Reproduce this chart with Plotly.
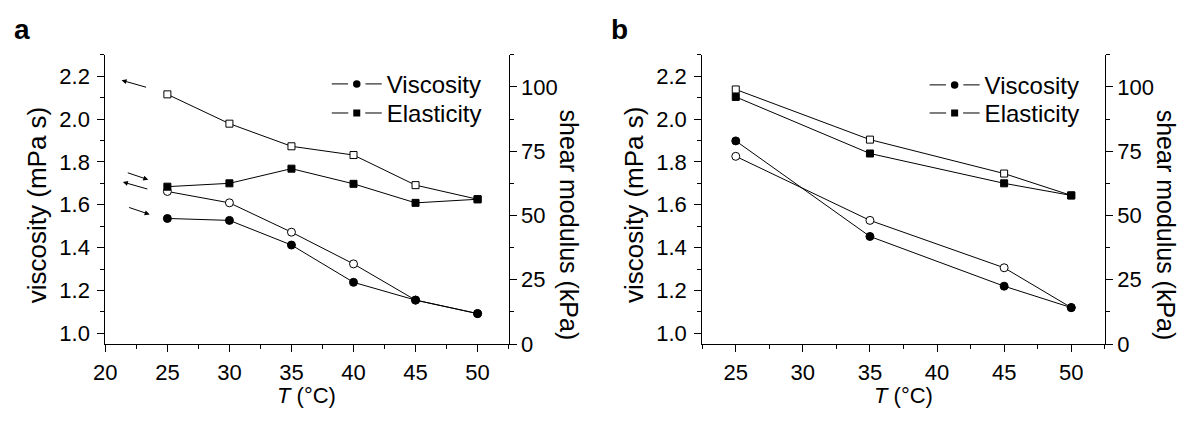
import plotly.graph_objects as go

# ---------------- data ----------------
T_a = [25, 30, 35, 40, 45, 50]
visc_open_a = [1.662, 1.609, 1.472, 1.324, 1.155, 1.092]
visc_fill_a = [1.536, 1.527, 1.412, 1.238, 1.155, 1.092]
mod_open_a = [97.1, 85.7, 76.9, 73.5, 61.8, 56.3]
mod_fill_a = [61.2, 62.5, 68.2, 62.3, 54.9, 56.3]

T_b = [25, 35, 45, 50]
visc_fill_b = [1.898, 1.452, 1.220, 1.120]
visc_open_b = [1.826, 1.527, 1.306, 1.120]
mod_open_b = [99.0, 79.5, 66.3, 57.8]
mod_fill_b = [96.1, 74.1, 62.5, 57.8]

legend_names = ["Viscosity", "Elasticity"]

# arrows in panel a: head (T, viscosity) and tail offset in px
arrow_x = [21.31, 23.46, 21.41, 23.57]
arrow_y = [2.181, 1.717, 1.706, 1.555]
arrow_ax = [26, -22, 26, -22]
arrow_ay = [7.4, -7.4, 7.4, -7.4]

FONT = "Arial, Liberation Sans, sans-serif"
TICKSZ = 22
W, H = 1180, 421

fig = go.Figure()

def add_line(x, y, xa, ya, symbol, filled, size=8):
    fig.add_trace(go.Scatter(
        x=x, y=y, xaxis=xa, yaxis=ya, mode="lines+markers",
        line=dict(color="black", width=1),
        marker=dict(symbol=symbol, size=size,
                    color="black" if filled else "white",
                    line=dict(color="black", width=1)),
        showlegend=False, hoverinfo="x+y",
    ))

# panel a
add_line(T_a, mod_open_a, "x", "y2", "square", False, size=7)
add_line(T_a, mod_fill_a, "x", "y2", "square", True, size=7)
add_line(T_a, visc_open_a, "x", "y", "circle", False)
add_line(T_a, visc_fill_a, "x", "y", "circle", True)
# panel b
add_line(T_b, mod_open_b, "x2", "y4", "square", False, size=7)
add_line(T_b, mod_fill_b, "x2", "y4", "square", True, size=7)
add_line(T_b, visc_open_b, "x2", "y3", "circle", False)
add_line(T_b, visc_fill_b, "x2", "y3", "circle", True)

# legend-only entries (line - marker - line with gaps)
leg_ids = ["legend", "legend2", "legend3", "legend4"]
for i, (lg, xa, ya) in enumerate(zip(leg_ids, ["x", "x", "x2", "x2"], ["y", "y", "y3", "y3"])):
    nm = legend_names[i % 2]
    sym = "circle" if i % 2 == 0 else "square"
    fig.add_trace(go.Scatter(
        x=[None], y=[None], xaxis=xa, yaxis=ya, mode="lines+markers",
        name=nm, legend=lg, showlegend=True,
        line=dict(color="black", width=1),
        marker=dict(symbol=sym, size=12.5 if sym == "circle" else 12,
                    color="black", line=dict(color="white", width=5.5)),
    ))

xa_dom = [94.3 / W, 501.7 / W]
xb_dom = [697.3 / W, 1104 / W]
y_dom = [(H - 355) / H, (H - 56.5) / H]

tickfont = dict(family=FONT, size=TICKSZ, color="black")

def xax(dom, rng, anchor):
    return dict(domain=dom, range=rng, anchor=anchor, showgrid=False, zeroline=False,
                showline=True, linecolor="black", linewidth=1,
                ticks="outside", ticklen=7, tickwidth=1, tickcolor="black",
                dtick=5, tick0=0, tickfont=tickfont, ticklabelstandoff=2,
                minor=dict(ticks="outside", ticklen=4, dtick=2.5, tickcolor="black", tickwidth=1))

def xtop(rng, overlay, anchor):
    return dict(range=rng, overlaying=overlay, anchor=anchor, side="top",
                showgrid=False, zeroline=False, showline=True, linecolor="black", linewidth=1,
                ticks="inside", ticklen=6, tickwidth=1, tickcolor="black",
                dtick=5, tick0=0, showticklabels=False,
                minor=dict(ticks="inside", ticklen=5, dtick=2.5, tickcolor="black", tickwidth=1))

def yleft(anchor):
    return dict(domain=y_dom, range=[0.95, 2.3], anchor=anchor, showgrid=False, zeroline=False,
                showline=True, linecolor="black", linewidth=1,
                ticks="outside", ticklen=7, tickwidth=1, tickcolor="black",
                dtick=0.2, tick0=0, tickformat=".1f", tickfont=tickfont, ticklabelstandoff=3,
                minor=dict(ticks="outside", ticklen=4, dtick=0.1, tickcolor="black", tickwidth=1))

def yright(overlay, anchor):
    return dict(range=[0, 112.5], overlaying=overlay, anchor=anchor, side="right",
                showgrid=False, zeroline=False, showline=True, linecolor="black", linewidth=1,
                ticks="outside", ticklen=7, tickwidth=1, tickcolor="black",
                dtick=25, tick0=0, tickfont=tickfont,
                minor=dict(ticks="outside", ticklen=4, dtick=12.5, tickcolor="black", tickwidth=1))

def legend_at(xpx, ypx):
    return dict(x=xpx / W, y=(H - ypx) / H, xanchor="left", yanchor="middle",
                font=dict(family=FONT, size=24, color="black"),
                bgcolor="rgba(0,0,0,0)", itemwidth=50, borderwidth=0)

fig.update_layout(
    width=W, height=H,
    margin=dict(l=0, r=0, t=0, b=0),
    paper_bgcolor="white", plot_bgcolor="white",
    font=dict(family=FONT, color="black"),
    hovermode=False,
    xaxis=xax(xa_dom, [20, 52.5], "y"),
    xaxis2=xax(xb_dom, [22.5, 52.5], "y3"),
    xaxis3=xtop([20, 52.5], "x", "y"),
    xaxis4=xtop([22.5, 52.5], "x2", "y3"),
    yaxis=yleft("x"),
    yaxis2=yright("y", "x"),
    yaxis3=yleft("x2"),
    yaxis4=yright("y3", "x2"),
    legend=legend_at(318, 87),
    legend2=legend_at(318, 117),
    legend3=legend_at(922, 88),
    legend4=legend_at(922, 117),
)

ann = []
# panel letters
ann.append(dict(text="<b>a</b>", x=0 / W, y=(H - 30) / H, xref="paper", yref="paper",
                xanchor="left", yanchor="middle", showarrow=False,
                font=dict(family=FONT, size=28, color="black")))
ann.append(dict(text="<b>b</b>", x=603 / W, y=(H - 30) / H, xref="paper", yref="paper",
                xanchor="left", yanchor="middle", showarrow=False,
                font=dict(family=FONT, size=28, color="black")))
# axis titles
for x0, xc in [(0, 298), (603, 901)]:
    ann.append(dict(text="viscosity (mPa s)", x=(x0 + 26) / W, y=(H - 212) / H,
                    xref="paper", yref="paper", textangle=-90, showarrow=False,
                    xanchor="center", yanchor="middle",
                    font=dict(family=FONT, size=26, color="black")))
    ann.append(dict(text="shear modulus (kPa)", x=(x0 + 563) / W, y=(H - 232) / H,
                    xref="paper", yref="paper", textangle=90, showarrow=False,
                    xanchor="center", yanchor="middle",
                    font=dict(family=FONT, size=25, color="black")))
    ann.append(dict(text="<i>T</i> (°C)", x=xc / W, y=(H - 408) / H,
                    xref="paper", yref="paper", showarrow=False,
                    xanchor="center", yanchor="middle",
                    font=dict(family=FONT, size=TICKSZ, color="black")))
# arrows
for x, y, ax, ay in zip(arrow_x, arrow_y, arrow_ax, arrow_ay):
    ann.append(dict(text="", x=x, y=y, xref="x", yref="y", ax=ax, ay=ay,
                    showarrow=True, arrowhead=2, arrowsize=1, arrowwidth=1,
                    arrowcolor="black", standoff=0, startstandoff=0))

fig.update_layout(annotations=ann)

fig.write_html("out.html")
